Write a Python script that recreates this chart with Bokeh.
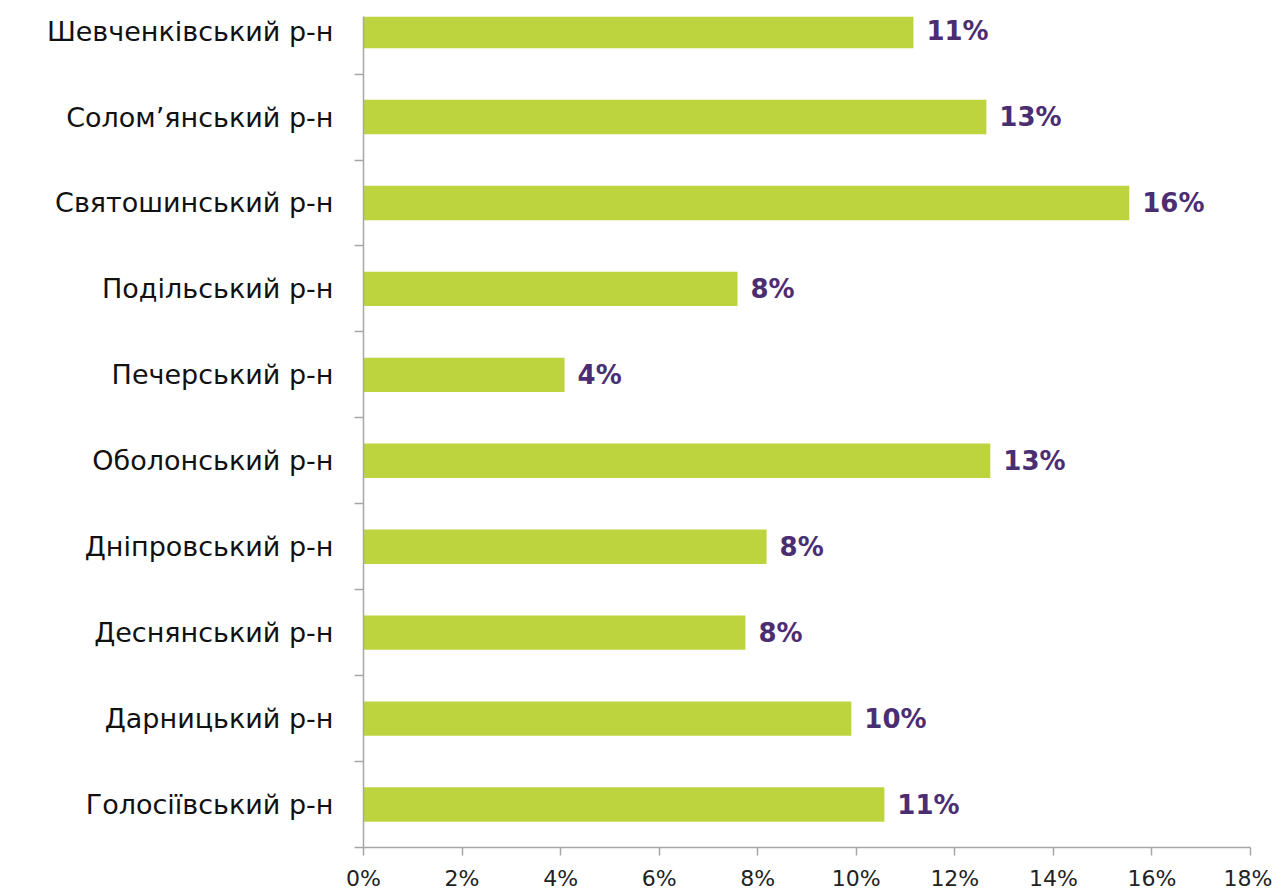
from bokeh.plotting import figure
from bokeh.models import ColumnDataSource, FixedTicker, Range1d, LabelSet
from bokeh.core.properties import value
from bokeh.embed import file_html
from bokeh.resources import INLINE

districts = ["Голосіївський р-н", "Дарницький р-н", "Деснянський р-н", "Дніпровський р-н",
             "Оболонський р-н", "Печерський р-н", "Подільський р-н", "Святошинський р-н",
             "Солом’янський р-н", "Шевченківський р-н"]
shares = [10.57, 9.90, 7.75, 8.18, 12.72, 4.08, 7.59, 15.54, 12.64, 11.16]
value_labels = ["11%", "10%", "8%", "8%", "13%", "4%", "8%", "16%", "13%", "11%"]
x_ticks = [0, 2, 4, 6, 8, 10, 12, 14, 16, 18]

ypos = list(range(len(districts)))
src = ColumnDataSource(dict(y=ypos, v=shares, lab=value_labels))

FONT = "DejaVu Sans"

p = figure(frame_width=887, frame_height=831, output_backend="svg", toolbar_location=None,
           x_range=Range1d(0, 18), y_range=Range1d(-0.5, 9.17),
           min_border_left=363, min_border_top=16, min_border_right=22, min_border_bottom=40)
p.outline_line_color = None
p.grid.grid_line_color = None
p.background_fill_color = "white"

p.hbar(y="y", right="v", left=0, height=0.4, source=src, fill_color="#BDD43F", line_color=None)

labels = LabelSet(x="v", y="y", text="lab", source=src, x_offset=13, y_offset=0,
                  text_font=value(FONT), text_font_style="bold", text_font_size="26px",
                  text_color="#4B2E72", text_baseline="middle")
p.add_layout(labels)

# x axis
p.xaxis.ticker = FixedTicker(ticks=x_ticks)
p.xaxis.major_label_overrides = {t: f"{t}%" for t in x_ticks}
p.xaxis.major_tick_in = 0
p.xaxis.major_tick_out = 8
p.xaxis.minor_tick_line_color = None
p.xaxis.axis_line_color = "#A6A6A6"
p.xaxis.major_tick_line_color = "#A6A6A6"
p.xaxis.axis_line_width = 1.5
p.xaxis.major_tick_line_width = 1.5
p.xaxis.major_label_text_font = FONT
p.xaxis.major_label_text_font_size = "22px"
p.xaxis.major_label_text_color = "#222222"
p.xaxis.major_label_standoff = 10

# y axis
p.yaxis.ticker = FixedTicker(ticks=ypos, minor_ticks=[i + 0.5 for i in range(-1, 10)])
p.yaxis.major_label_overrides = {i: d for i, d in enumerate(districts)}
p.yaxis.major_tick_line_color = None
p.yaxis.major_tick_in = 0
p.yaxis.major_tick_out = 0
p.yaxis.minor_tick_in = 0
p.yaxis.minor_tick_out = 9
p.yaxis.minor_tick_line_color = "#A6A6A6"
p.yaxis.minor_tick_line_width = 1.5
p.yaxis.axis_line_color = "#A6A6A6"
p.yaxis.axis_line_width = 1.5
p.yaxis.major_label_text_font = FONT
p.yaxis.major_label_text_font_size = "27px"
p.yaxis.major_label_text_color = "#111111"
p.yaxis.major_label_standoff = 21

open("out.html", "w").write(file_html(p, INLINE))
